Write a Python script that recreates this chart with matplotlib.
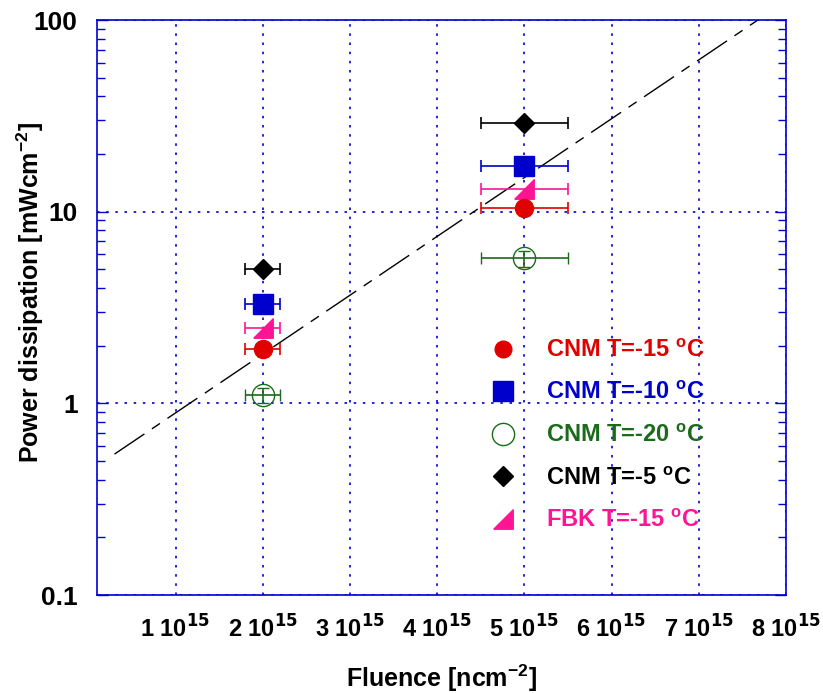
import numpy as np
import matplotlib
matplotlib.use("Agg")
from matplotlib import pyplot as plt
from matplotlib.lines import Line2D
from matplotlib.ticker import FixedLocator, FixedFormatter, LogLocator, NullFormatter

plt.rcParams['font.family'] = ['Liberation Sans', 'DejaVu Sans']
plt.rcParams['font.weight'] = 'bold'
plt.rcParams['mathtext.default'] = 'bf'

# Data (fluence in ncm^-2, power in mW/cm^2)
fluence = [2e15, 5e15]
fluence_err = [0.2e15, 0.5e15]
cnm_m15 = [1.92, 10.5]
cnm_m10 = [3.3, 17.3]
cnm_m20 = [1.1, 5.7]
cnm_m20_err = [0.1, 0.55]
cnm_m5 = [5.0, 29.0]
fbk_m15 = [2.47, 13.2]

# dash-dot guide line: P = 10**(a + b*F/1e15)
fit_a, fit_b = -0.357, 0.307

xticks = [1e15, 2e15, 3e15, 4e15, 5e15, 6e15, 7e15, 8e15]
xticklabels = [r'%d 10$^{15}$' % k for k in range(1, 9)]
yticks = [0.1, 1, 10, 100]
yticklabels = ['0.1', '1', '10', '100']

red = '#e00000'
blue = '#0000cc'
green = '#1a6b1a'
pink = '#ff1493'
black = '#000000'

tri = [(-1, -1), (1, -1), (1, 1), (-1, -1)]

fig = plt.figure(figsize=(8.23, 6.93), dpi=100)
ax = fig.add_axes([0.1179, 0.1414, 0.8371, 0.8297])

fx = np.linspace(0.3e15, 8e15, 200)
ax.plot(fx, 10 ** (fit_a + fit_b * fx / 1e15), color='black', lw=1.0,
        dashes=(26, 6.5, 7, 6.5))

ekw = dict(ls='none', elinewidth=1.2, capsize=4, capthick=1.2)
ax.errorbar(fluence, cnm_m5, xerr=fluence_err, fmt='D', color=black, ms=10, **ekw)
ax.errorbar(fluence, cnm_m10, xerr=fluence_err, fmt='s', color=blue, ms=15, **ekw)
ax.errorbar(fluence, fbk_m15, xerr=fluence_err, fmt='none', ecolor=pink, **ekw)
ax.plot(fluence, fbk_m15, ls='none', marker=tri, color=pink, ms=14)
ax.errorbar(fluence, cnm_m15, xerr=fluence_err, fmt='o', color=red, ms=13, **ekw)
ax.errorbar(fluence, cnm_m20, xerr=fluence_err, yerr=cnm_m20_err, fmt='o',
            color=green, mfc='none', mec=green, ms=16, mew=1.0, **ekw)

ax.set_yscale('log')
ax.set_xlim(0.1e15, 8e15)
ax.set_ylim(0.1, 100)

ax.xaxis.set_major_locator(FixedLocator(xticks))
ax.xaxis.set_major_formatter(FixedFormatter(xticklabels))
ax.yaxis.set_major_locator(FixedLocator(yticks))
ax.yaxis.set_major_formatter(FixedFormatter(yticklabels))
ax.yaxis.set_minor_locator(LogLocator(base=10, subs=np.arange(2, 10)))
ax.yaxis.set_minor_formatter(NullFormatter())

ax.tick_params(axis='x', length=0, labelsize=17, pad=15)
ax.tick_params(axis='y', which='both', direction='in', left=True, right=True,
               color=blue, labelsize=19, pad=14)
ax.tick_params(axis='y', which='major', length=8, width=1)
ax.tick_params(axis='y', which='minor', length=6, width=1)
for lab in ax.get_xticklabels() + ax.get_yticklabels():
    lab.set_fontweight('bold')

for s in ax.spines.values():
    s.set_color(blue)
    s.set_linewidth(1.2)

ax.grid(True, which='major', color=blue, ls=(0, (1.5, 4)), lw=1.2)

ax.set_xlabel(r'Fluence [ncm$^{\mathregular{-2}}$]', fontsize=18,
              fontweight='bold')
ax.xaxis.set_label_coords(0.5, -0.117)
ax.set_ylabel(r'Power dissipation [mWcm$^{\mathregular{-2}}$]', fontsize=18,
              fontweight='bold')
ax.yaxis.set_label_coords(-0.074, 0.526)

# legend: markers only, coloured labels
leg_markers = ['o', 's', 'o', 'D', tri]
leg_colors = [red, blue, green, black, pink]
leg_labels = [r'CNM T=-15 $^{\mathregular{o}}$C', r'CNM T=-10 $^{\mathregular{o}}$C',
              r'CNM T=-20 $^{\mathregular{o}}$C', r'CNM T=-5 $^{\mathregular{o}}$C',
              r'FBK T=-15 $^{\mathregular{o}}$C']
leg_sizes = [12, 14, 16, 10, 14]
handles = []
for m, c, sz in zip(leg_markers, leg_colors, leg_sizes):
    filled = not (c == green)
    handles.append(Line2D([], [], ls='none', marker=m, color=c, ms=sz,
                          mfc=c if filled else 'none', mec=c, mew=1.0))
leg = ax.legend(handles, leg_labels, loc='upper left',
                bbox_to_anchor=(0.555, 0.462), frameon=False, fontsize=17,
                labelspacing=0.83, handletextpad=1.2, handlelength=1.2,
                borderaxespad=0)
for t, c in zip(leg.get_texts(), leg_colors):
    t.set_color(c)
    t.set_fontweight('bold')

fig.savefig('out.png', dpi=100)
